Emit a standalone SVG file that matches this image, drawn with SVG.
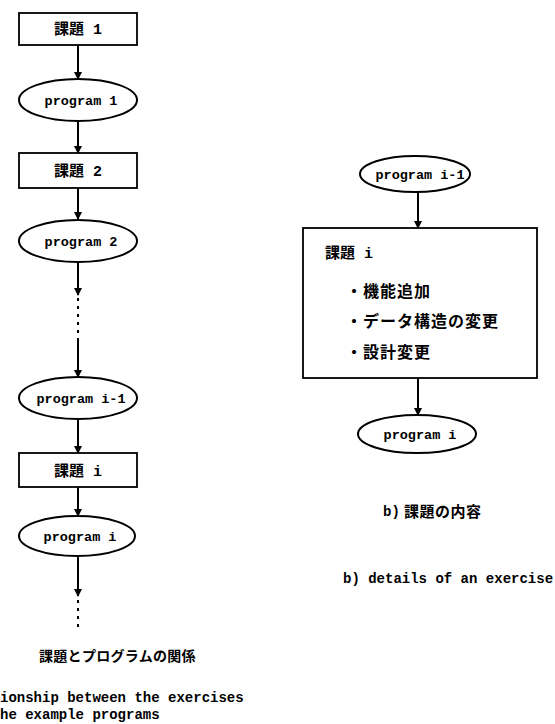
<svg xmlns="http://www.w3.org/2000/svg" width="555" height="724" viewBox="0 0 555 724">
<defs>
<style>
.box{fill:#fff;stroke:#000;stroke-width:1.8}
.ell{fill:#fff;stroke:#000;stroke-width:2}
.ln{stroke:#000;stroke-width:2;fill:none}
.dot{stroke:#000;stroke-width:2;fill:none;stroke-dasharray:3 5}
.en{font-family:"Liberation Mono","DejaVu Sans Mono",monospace;font-weight:bold;font-size:13.5px;fill:#000}
.jp{font-family:"Liberation Mono","Noto Sans CJK JP",monospace;font-weight:bold;font-size:15px;fill:#000}
.jpb{font-family:"Noto Sans CJK JP",sans-serif;font-weight:bold;font-size:16px;fill:#000;letter-spacing:1px}
</style>
<marker id="ah" markerWidth="8" markerHeight="9" refX="7" refY="4" orient="auto" markerUnits="userSpaceOnUse">
<path d="M0,0 L8,4 L0,8 Z" fill="#000"/>
</marker>
</defs>

<g id="connectors">
<line class="ln" x1="78" y1="45" x2="78" y2="79" marker-end="url(#ah)"/>
<line class="ln" x1="78" y1="122" x2="78" y2="153" marker-end="url(#ah)"/>
<line class="ln" x1="78" y1="188" x2="78" y2="219" marker-end="url(#ah)"/>
<line class="ln" x1="78" y1="263" x2="78" y2="295" marker-end="url(#ah)"/>
<line class="dot" x1="78" y1="298" x2="78" y2="340"/>
<line class="ln" x1="78" y1="340" x2="78" y2="377" marker-end="url(#ah)"/>
<line class="ln" x1="78" y1="419" x2="78" y2="453" marker-end="url(#ah)"/>
<line class="ln" x1="78" y1="487" x2="78" y2="516" marker-end="url(#ah)"/>
<line class="ln" x1="78" y1="557" x2="78" y2="596" marker-end="url(#ah)"/>
<line class="dot" x1="78" y1="600" x2="78" y2="628"/>
<line class="ln" x1="418" y1="192" x2="418" y2="228" marker-end="url(#ah)"/>
<line class="ln" x1="418" y1="378" x2="418" y2="415" marker-end="url(#ah)"/>
</g>

<g id="task1">
<rect class="box" x="19" y="13" width="118" height="32"/>
<text class="jp" x="78" y="34" text-anchor="middle">課題 1</text>
</g>
<g id="program1">
<ellipse class="ell" cx="78" cy="100" rx="59" ry="21"/>
<text class="en" x="81" y="105" text-anchor="middle">program 1</text>
</g>
<g id="task2">
<rect class="box" x="19" y="153" width="118" height="35"/>
<text class="jp" x="78" y="176" text-anchor="middle">課題 2</text>
</g>
<g id="program2">
<ellipse class="ell" cx="78" cy="241" rx="59" ry="21"/>
<text class="en" x="81" y="246" text-anchor="middle">program 2</text>
</g>
<g id="program_im1">
<ellipse class="ell" cx="78" cy="398" rx="59" ry="21"/>
<text class="en" x="81" y="403" text-anchor="middle">program i-1</text>
</g>
<g id="task_i">
<rect class="box" x="19" y="453" width="118" height="34"/>
<text class="jp" x="78" y="476" text-anchor="middle">課題 i</text>
</g>
<g id="program_i">
<ellipse class="ell" cx="77" cy="536" rx="58" ry="20"/>
<text class="en" x="80" y="541" text-anchor="middle">program i</text>
</g>

<g id="caption_a">
<text class="jpb" x="39" y="661" style="font-size:14px;letter-spacing:0.3px">課題とプログラムの関係</text>
<text class="en" x="0" y="702" style="font-size:14px">ionship between the exercises</text>
<text class="en" x="0" y="719" style="font-size:14px">he example programs</text>
</g>

<g id="r_program_im1">
<ellipse class="ell" cx="415" cy="174" rx="55" ry="18"/>
<text class="en" x="420" y="179" text-anchor="middle">program i-1</text>
</g>
<g id="r_task_i">
<rect class="box" x="303" y="228" width="234" height="150"/>
<text class="jp" x="325" y="258">課題 i</text>
<text class="jpb" x="346" y="297">・機能追加</text>
<text class="jpb" x="346" y="327">・データ構造の変更</text>
<text class="jpb" x="346" y="358">・設計変更</text>
</g>
<g id="r_program_i">
<ellipse class="ell" cx="417" cy="434" rx="59" ry="19"/>
<text class="en" x="420" y="439" text-anchor="middle">program i</text>
</g>

<g id="caption_b">
<text class="en" x="383" y="516" style="font-size:14px">b)</text>
<text class="jpb" x="404" y="517" style="font-size:15px;letter-spacing:0.5px">課題の内容</text>
<text class="en" x="343" y="583" style="font-size:14px">b) details of an exercise</text>
</g>
</svg>
